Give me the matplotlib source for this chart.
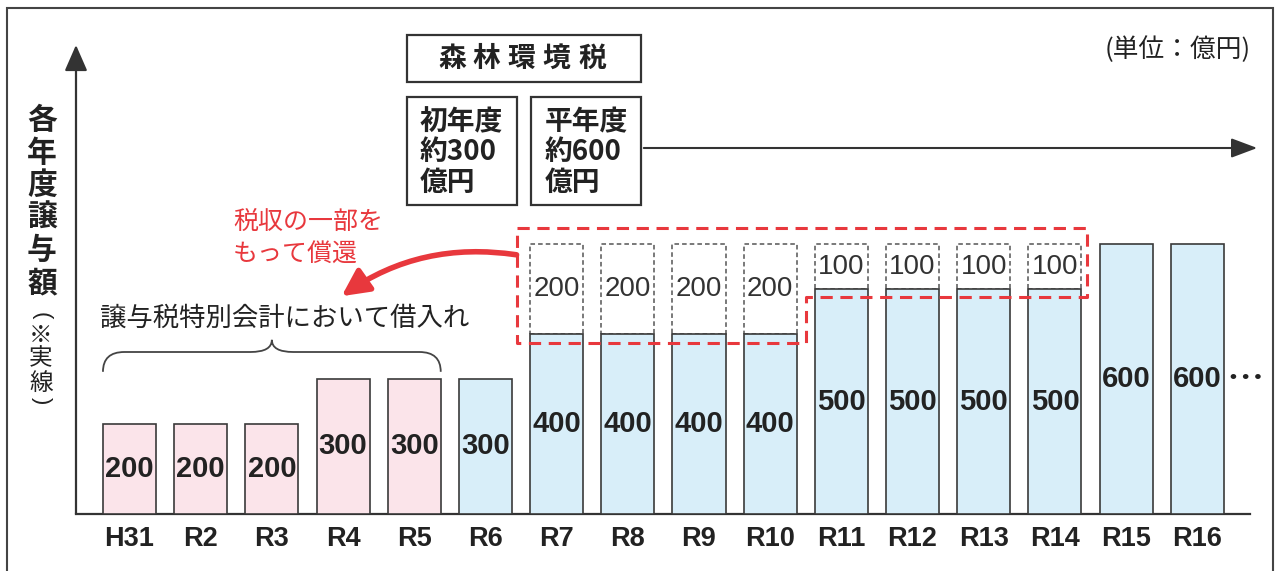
import matplotlib.pyplot as plt
from matplotlib.patches import Rectangle, PathPatch, FancyArrowPatch
from matplotlib.path import Path

# data (単位：億円)
years = ['H31', 'R2', 'R3', 'R4', 'R5', 'R6', 'R7', 'R8',
         'R9', 'R10', 'R11', 'R12', 'R13', 'R14', 'R15', 'R16']
jouyo = [200, 200, 200, 300, 300, 300, 400, 400, 400, 400, 500, 500, 500, 500, 600, 600]  # 実線
shoukan = [0, 0, 0, 0, 0, 0, 200, 200, 200, 200, 100, 100, 100, 100, 0, 0]              # 点線 (償還分)
kubun = ['借入', '借入', '借入', '借入', '借入', '税', '税', '税',
         '税', '税', '税', '税', '税', '税', '税', '税']

colors = {'借入': '#fbe4ea', '税': '#d8eef9'}
RED = '#e8383d'
DARK = '#333333'
JP = ['Noto Sans CJK JP', 'DejaVu Sans']
LAT = ['Liberation Sans', 'DejaVu Sans']

W, H = 1277, 571
fig = plt.figure(figsize=(W / 100, H / 100), dpi=100)


def fx(x):
    return x / W


def fy(y):
    return 1 - y / H


# main axes: baseline at y=514px, y-axis at x=76px, 0.45 px per 億円
ax = fig.add_axes([fx(76), fy(514), (1250 - 76) / W, (514 - 45) / H])
ax.set_xlim(-0.751, 15.74)
ax.set_ylim(0, (514 - 45) / 0.45)
x = list(range(len(years)))
w = 0.745

# dashed part on top (償還分)
for i in x:
    if shoukan[i] > 0:
        ax.bar(i, shoukan[i], bottom=jouyo[i], width=w, color='white',
               edgecolor='#555555', lw=1.1, ls=(0, (3, 2)), zorder=2)
        ax.text(i, jouyo[i] + shoukan[i] / 2, str(shoukan[i]), ha='center', va='center',
                fontsize=20, color='#333333', family=LAT, zorder=5)

# solid bars
ax.bar(x, jouyo, width=w, color=[colors[k] for k in kubun],
       edgecolor='#3a3a3a', lw=1.2, zorder=3)
for i in x:
    ax.text(i, jouyo[i] / 2, str(jouyo[i]), ha='center', va='center',
            fontsize=21, fontweight='bold', color='#222222', family=LAT, zorder=5)

ax.set_xticks(x, years)
ax.tick_params(axis='x', length=0, pad=9, labelsize=19.5)
for lab in ax.get_xticklabels():
    lab.set_fontweight('bold')
    lab.set_family(LAT)
    lab.set_color('#222222')
ax.set_yticks([])
for s in ['top', 'right', 'left']:
    ax.spines[s].set_visible(False)
ax.spines['bottom'].set_linewidth(1.6)
ax.spines['bottom'].set_color(DARK)
ax.patch.set_alpha(0)

# y axis with arrow
ax.annotate('', xy=(0, 1), xytext=(0, 0), xycoords='axes fraction',
            arrowprops=dict(arrowstyle='-|>,head_length=0.8,head_width=0.35', lw=1.6,
                            color=DARK, shrinkA=0, shrinkB=0, mutation_scale=20))

# red dashed outline around 償還分
left = 6 - w / 2 - 0.19
right = 13 + w / 2 + 0.08
step = 9.5
top = 600 + 36
px_ = [left, right, right, step, step, left, left]
py_ = [top, top, 500 - 18, 500 - 18, 400 - 20, 400 - 20, top]
ax.plot(px_, py_, color=RED, lw=2.2, ls=(0, (4, 2.5)), zorder=6, clip_on=False)

# red curved arrow
ax.annotate('', xy=(2.98, 484), xytext=(left, 576), xycoords='data',
            arrowprops=dict(arrowstyle='-|>,head_length=0.9,head_width=0.45', lw=4,
                            color=RED, shrinkA=0, shrinkB=0, mutation_scale=18,
                            connectionstyle='arc3,rad=0.2'), zorder=6)

# brace over borrowed years
x0, x1, xm = -w / 2, 4 + w / 2, 2
ye, ymid, ytip = 316, 360, 387
verts = [(x0, ye), (x0, ymid), (x0 + 0.3, ymid), (xm - 0.3, ymid), (xm, ymid), (xm, ytip),
         (xm, ymid), (xm + 0.3, ymid), (x1 - 0.3, ymid), (x1, ymid), (x1, ye)]
codes = [Path.MOVETO, Path.CURVE3, Path.CURVE3, Path.LINETO, Path.CURVE3, Path.CURVE3,
         Path.CURVE3, Path.CURVE3, Path.LINETO, Path.CURVE3, Path.CURVE3]
ax.add_patch(PathPatch(Path(verts, codes), fill=False, ec='#444444', lw=1.3, clip_on=False))

# texts in the chart
fig.text(fx(100), fy(318), '譲与税特別会計において借入れ', fontsize=19, family=JP,
         color='#222222', va='center', ha='left')
fig.text(fx(233), fy(222), '税収の一部を', fontsize=18, family=JP, color=RED, va='center')
fig.text(fx(233), fy(255), 'もって償還', fontsize=18, family=JP, color=RED, va='center')
fig.text(fx(1230), fy(377), '• • •', fontsize=14, fontweight='bold', family=LAT,
         color='#222222', va='center')
fig.text(fx(1251), fy(50), '(単位：億円)', fontsize=18.5, family=JP, color='#222222',
         va='center', ha='right')

# y label (vertical)
for k, ch in enumerate('各年度譲与額'):
    fig.text(fx(42), fy(120 + 32.6 * k), ch, fontsize=21.5, fontweight='bold', family=JP,
             color='#222222', ha='center', va='center')
for ch, yy in zip(['※', '実', '線'], [336, 359, 383]):
    fig.text(fx(41), fy(yy), ch, fontsize=17, family=JP, color='#222222',
             ha='center', va='center')
for ch, yy in zip(['(', ')'], [316, 401]):
    fig.text(fx(41), fy(yy), ch, fontsize=16, family=LAT, color='#222222',
             ha='center', va='center', rotation=-90)

# top boxes
def box(x0p, y0p, x1p, y1p):
    fig.add_artist(Rectangle((fx(x0p), fy(y1p)), (x1p - x0p) / W, (y1p - y0p) / H,
                             transform=fig.transFigure, fill=False, ec=DARK, lw=1.6))


box(407, 35, 641, 82)
for ch, xx in zip('森林環境税', [452, 486, 521, 556, 592]):
    fig.text(fx(xx), fy(59), ch, fontsize=20, fontweight='bold', family=JP,
             color='#222222', ha='center', va='center')
box(407, 97, 517, 205)
box(531, 97, 641, 205)
for lines, xl in [(['初年度', '約300', '億円'], 420), (['平年度', '約600', '億円'], 545)]:
    for ln, yy in zip(lines, [122, 152, 183]):
        fig.text(fx(xl), fy(yy), ln, fontsize=20, fontweight='bold', family=JP,
                 color='#222222', ha='left', va='center')

fig.add_artist(FancyArrowPatch((fx(641), fy(148)), (fx(1260), fy(148)),
                               transform=fig.transFigure,
                               arrowstyle='-|>,head_length=0.8,head_width=0.3',
                               mutation_scale=20, lw=1.5, color=DARK))

# outer frame
fig.add_artist(Rectangle((fx(7), -0.05), (1273 - 7) / W, fy(8) + 0.05,
                         transform=fig.transFigure, fill=False, ec='#444444', lw=1.5))

fig.savefig('out.png', dpi=100)
